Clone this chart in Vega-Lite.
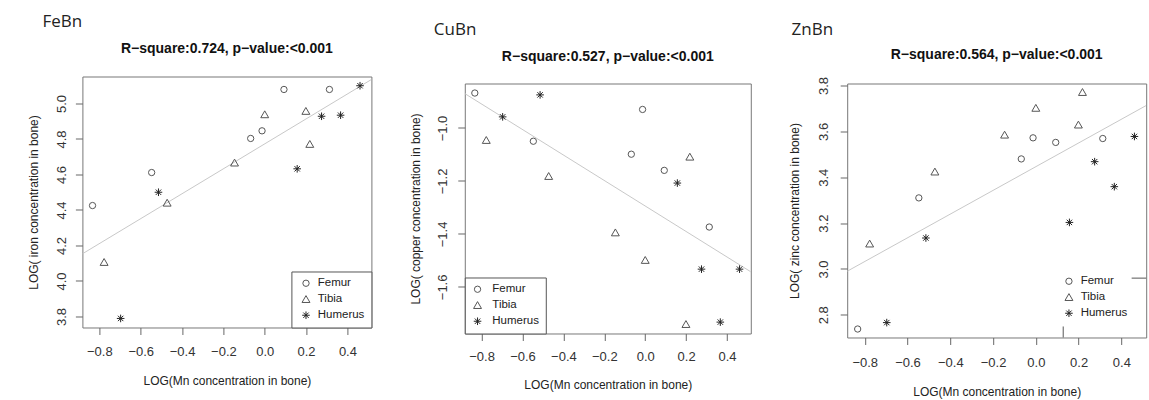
{
  "$schema": "https://vega.github.io/schema/vega-lite/v6.json",
  "padding": {"left": 26.4, "top": 12.5, "right": 5, "bottom": 5},
  "background": "white",
  "datasets": {
    "fe": [
      {"mn": -0.833, "val": 4.425, "bone": "Femur"},
      {"mn": -0.547, "val": 4.611, "bone": "Femur"},
      {"mn": -0.068, "val": 4.803, "bone": "Femur"},
      {"mn": -0.013, "val": 4.846, "bone": "Femur"},
      {"mn": 0.093, "val": 5.079, "bone": "Femur"},
      {"mn": 0.313, "val": 5.079, "bone": "Femur"},
      {"mn": -0.777, "val": 4.106, "bone": "Tibia"},
      {"mn": -0.472, "val": 4.44, "bone": "Tibia"},
      {"mn": -0.146, "val": 4.666, "bone": "Tibia"},
      {"mn": 0.0, "val": 4.938, "bone": "Tibia"},
      {"mn": 0.199, "val": 4.957, "bone": "Tibia"},
      {"mn": 0.218, "val": 4.771, "bone": "Tibia"},
      {"mn": -0.697, "val": 3.789, "bone": "Humerus"},
      {"mn": -0.514, "val": 4.5, "bone": "Humerus"},
      {"mn": 0.157, "val": 4.632, "bone": "Humerus"},
      {"mn": 0.275, "val": 4.928, "bone": "Humerus"},
      {"mn": 0.367, "val": 4.934, "bone": "Humerus"},
      {"mn": 0.461, "val": 5.1, "bone": "Humerus"}
    ],
    "feFit": [
      {"mn": -0.882, "val": 4.153},
      {"mn": 0.516, "val": 5.135}
    ],
    "cu": [
      {"mn": -0.833, "val": -0.868, "bone": "Femur"},
      {"mn": -0.547, "val": -1.05, "bone": "Femur"},
      {"mn": -0.068, "val": -1.099, "bone": "Femur"},
      {"mn": -0.013, "val": -0.93, "bone": "Femur"},
      {"mn": 0.093, "val": -1.16, "bone": "Femur"},
      {"mn": 0.313, "val": -1.374, "bone": "Femur"},
      {"mn": -0.777, "val": -1.046, "bone": "Tibia"},
      {"mn": -0.472, "val": -1.182, "bone": "Tibia"},
      {"mn": -0.146, "val": -1.395, "bone": "Tibia"},
      {"mn": 0.0, "val": -1.499, "bone": "Tibia"},
      {"mn": 0.199, "val": -1.741, "bone": "Tibia"},
      {"mn": 0.218, "val": -1.109, "bone": "Tibia"},
      {"mn": -0.697, "val": -0.958, "bone": "Humerus"},
      {"mn": -0.514, "val": -0.875, "bone": "Humerus"},
      {"mn": 0.157, "val": -1.208, "bone": "Humerus"},
      {"mn": 0.275, "val": -1.533, "bone": "Humerus"},
      {"mn": 0.367, "val": -1.733, "bone": "Humerus"},
      {"mn": 0.461, "val": -1.533, "bone": "Humerus"}
    ],
    "cuFit": [
      {"mn": -0.882, "val": -0.87},
      {"mn": 0.516, "val": -1.543}
    ],
    "zn": [
      {"mn": -0.833, "val": 2.738, "bone": "Femur"},
      {"mn": -0.547, "val": 3.31, "bone": "Femur"},
      {"mn": -0.068, "val": 3.48, "bone": "Femur"},
      {"mn": -0.013, "val": 3.572, "bone": "Femur"},
      {"mn": 0.093, "val": 3.552, "bone": "Femur"},
      {"mn": 0.313, "val": 3.569, "bone": "Femur"},
      {"mn": -0.777, "val": 3.11, "bone": "Tibia"},
      {"mn": -0.472, "val": 3.424, "bone": "Tibia"},
      {"mn": -0.146, "val": 3.585, "bone": "Tibia"},
      {"mn": 0.0, "val": 3.702, "bone": "Tibia"},
      {"mn": 0.199, "val": 3.629, "bone": "Tibia"},
      {"mn": 0.218, "val": 3.771, "bone": "Tibia"},
      {"mn": -0.697, "val": 2.766, "bone": "Humerus"},
      {"mn": -0.514, "val": 3.135, "bone": "Humerus"},
      {"mn": 0.157, "val": 3.203, "bone": "Humerus"},
      {"mn": 0.275, "val": 3.468, "bone": "Humerus"},
      {"mn": 0.367, "val": 3.359, "bone": "Humerus"},
      {"mn": 0.461, "val": 3.578, "bone": "Humerus"}
    ],
    "znFit": [
      {"mn": -0.882, "val": 2.99},
      {"mn": 0.516, "val": 3.713}
    ],
    "znBox": [
      {"mn": 0.128, "mn2": 0.128, "val": 2.701, "val2": 2.749},
      {"mn": 0.448, "mn2": 0.516, "val": 2.96, "val2": 2.96}
    ]
  },
  "spacing": 35.4,
  "resolve": {"scale": {"shape": "independent", "color": "independent"}, "legend": {"shape": "independent", "color": "independent"}},
  "hconcat": [
    {
      "title": {"text": "FeBn", "anchor": "start", "frame": "group", "dx": -40, "offset": 6},
      "spacing": 0,
      "resolve": {"scale": {"shape": "independent", "color": "independent"}, "legend": {"shape": "independent", "color": "independent"}},
      "vconcat": [
        {"width": 1, "height": 4.5, "data": {"values": []}, "mark": "point", "view": {"stroke": null}},
        {
          "width": 289,
          "height": 251,
          "title": {"text": "R−square:0.724, p−value:<0.001", "offset": 20.5, "font": "Liberation Sans", "fontSize": 14, "fontWeight": "bold", "color": "#111"},
          "encoding": {
            "x": {"field": "mn", "type": "quantitative",
              "scale": {"domain": [-0.882, 0.516], "nice": false, "zero": false},
              "axis": {"values": [-0.8, -0.6, -0.4, -0.2, 0, 0.2, 0.4], "format": ".1f", "title": "LOG(Mn concentration in bone)", "labelPadding": 11.1, "titlePadding": 17.3}},
            "y": {"field": "val", "type": "quantitative",
              "scale": {"domain": [3.738, 5.152], "nice": false, "zero": false},
              "axis": {"values": [3.8, 4.0, 4.2, 4.4, 4.6, 4.8, 5.0], "format": ".1f", "title": "LOG( iron  concentration in bone)", "labelPadding": 6.6, "titlePadding": 15}}
          },
          "layer": [
            {"data": {"name": "feFit"}, "mark": {"type": "line", "clip": true, "color": "#c8c8c8", "strokeWidth": 1}, "encoding": {}},
            {"data": {"name": "fe"},
              "mark": {"type": "point", "filled": false, "size": 40, "strokeWidth": 1, "opacity": 1},
              "encoding": {
                "shape": {"field": "bone", "type": "nominal",
                  "scale": {"domain": ["Femur", "Tibia", "Humerus"], "range": ["circle", "M0,-1.15L1.25,1.02L-1.25,1.02Z", "M-1.2,0L1.2,0M0,-1.2L0,1.2M-0.85,-0.85L0.85,0.85M-0.85,0.85L0.85,-0.85"]},
                  "legend": {"title": null, "orient": "bottom-right", "offset": 0, "padding": 6, "symbolOffset": 2.85, "strokeColor": "#555", "fillColor": "white", "labelOffset": 6}},
                "color": {"field": "bone", "type": "nominal",
                  "scale": {"domain": ["Femur", "Tibia", "Humerus"], "range": ["#555555", "#555555", "#222222"]},
                  "legend": {"title": null, "orient": "bottom-right", "offset": 0, "padding": 6, "symbolOffset": 2.85, "strokeColor": "#555", "fillColor": "white", "labelOffset": 6}}
              }}
          ]
        }
      ]
    },
    {
      "spacing": 35.4,
      "resolve": {"scale": {"shape": "independent", "color": "independent"}, "legend": {"shape": "independent", "color": "independent"}},
      "hconcat": [
        {
          "title": {"text": "CuBn", "anchor": "start", "frame": "group", "dx": -31, "offset": -2},
          "spacing": 0,
          "resolve": {"scale": {"shape": "independent", "color": "independent"}, "legend": {"shape": "independent", "color": "independent"}},
          "vconcat": [
            {"width": 1, "height": 11.5, "data": {"values": []}, "mark": "point", "view": {"stroke": null}},
            {
              "width": 286,
              "height": 250,
              "title": {"text": "R−square:0.527, p−value:<0.001", "offset": 20, "font": "Liberation Sans", "fontSize": 14, "fontWeight": "bold", "color": "#111"},
              "encoding": {
                "x": {"field": "mn", "type": "quantitative",
                  "scale": {"domain": [-0.882, 0.516], "nice": false, "zero": false},
                  "axis": {"values": [-0.8, -0.6, -0.4, -0.2, 0, 0.2, 0.4], "format": ".1f", "title": "LOG(Mn concentration in bone)", "labelPadding": 10.1, "titlePadding": 16.3}},
                "y": {"field": "val", "type": "quantitative",
                  "scale": {"domain": [-1.776, -0.832], "nice": false, "zero": false},
                  "axis": {"values": [-1.6, -1.4, -1.2, -1.0], "format": ".1f", "title": "LOG( copper  concentration in bone)", "labelPadding": 8.3, "titlePadding": 14.3}}
              },
              "layer": [
                {"data": {"name": "cuFit"}, "mark": {"type": "line", "clip": true, "color": "#c8c8c8", "strokeWidth": 1}, "encoding": {}},
                {"data": {"name": "cu"},
                  "mark": {"type": "point", "filled": false, "size": 40, "strokeWidth": 1, "opacity": 1},
                  "encoding": {
                    "shape": {"field": "bone", "type": "nominal",
                      "scale": {"domain": ["Femur", "Tibia", "Humerus"], "range": ["circle", "M0,-1.15L1.25,1.02L-1.25,1.02Z", "M-1.2,0L1.2,0M0,-1.2L0,1.2M-0.85,-0.85L0.85,0.85M-0.85,0.85L0.85,-0.85"]},
                      "legend": {"title": null, "orient": "bottom-left", "offset": 0, "padding": 6, "symbolOffset": 1, "strokeColor": "#555", "fillColor": "white", "labelOffset": 9}},
                    "color": {"field": "bone", "type": "nominal",
                      "scale": {"domain": ["Femur", "Tibia", "Humerus"], "range": ["#555555", "#555555", "#222222"]},
                      "legend": {"title": null, "orient": "bottom-left", "offset": 0, "padding": 6, "symbolOffset": 1, "strokeColor": "#555", "fillColor": "white", "labelOffset": 9}}
                  }}
              ]
            }
          ]
        },
        {
          "title": {"text": "ZnBn", "anchor": "start", "frame": "group", "dx": -55.6, "offset": -2},
          "spacing": 0,
          "resolve": {"scale": {"shape": "independent", "color": "independent"}, "legend": {"shape": "independent", "color": "independent"}},
          "vconcat": [
            {"width": 1, "height": 10.6, "data": {"values": []}, "mark": "point", "view": {"stroke": null}},
            {
              "width": 299,
              "height": 254,
              "title": {"text": "R−square:0.564, p−value:<0.001", "offset": 14.4, "font": "Liberation Sans", "fontSize": 14, "fontWeight": "bold", "color": "#111"},
              "encoding": {
                "x": {"field": "mn", "type": "quantitative",
                  "scale": {"domain": [-0.882, 0.516], "nice": false, "zero": false},
                  "axis": {"values": [-0.8, -0.6, -0.4, -0.2, 0, 0.2, 0.4], "format": ".1f", "title": "LOG(Mn concentration in bone)", "labelPadding": 12.4, "titlePadding": 16.3}},
                "y": {"field": "val", "type": "quantitative",
                  "scale": {"domain": [2.701, 3.809], "nice": false, "zero": false},
                  "axis": {"values": [2.8, 3.0, 3.2, 3.4, 3.6, 3.8], "format": ".1f", "title": "LOG( zinc  concentration in bone)", "labelPadding": 9.6, "titlePadding": 16}}
              },
              "layer": [
                {"data": {"name": "znFit"}, "mark": {"type": "line", "clip": true, "color": "#c8c8c8", "strokeWidth": 1}, "encoding": {}},
                {"data": {"name": "znBox"}, "mark": {"type": "rule", "color": "#555", "strokeWidth": 1},
                  "encoding": {"x2": {"field": "mn2"}, "y2": {"field": "val2"}}},
                {"data": {"name": "zn"},
                  "mark": {"type": "point", "filled": false, "size": 40, "strokeWidth": 1, "opacity": 1},
                  "encoding": {
                    "shape": {"field": "bone", "type": "nominal",
                      "scale": {"domain": ["Femur", "Tibia", "Humerus"], "range": ["circle", "M0,-1.15L1.25,1.02L-1.25,1.02Z", "M-1.2,0L1.2,0M0,-1.2L0,1.2M-0.85,-0.85L0.85,0.85M-0.85,0.85L0.85,-0.85"]},
                      "legend": {"title": null, "orient": "bottom-right", "offset": 12, "padding": 6, "labelOffset": 6}},
                    "color": {"field": "bone", "type": "nominal",
                      "scale": {"domain": ["Femur", "Tibia", "Humerus"], "range": ["#555555", "#555555", "#222222"]},
                      "legend": {"title": null, "orient": "bottom-right", "offset": 12, "padding": 6, "labelOffset": 6}}
                  }}
              ]
            }
          ]
        }
      ]
    }
  ],
  "config": {
    "view": {"stroke": "#777", "strokeWidth": 1},
    "title": {"font": "Open Sans", "fontSize": 17, "fontWeight": "normal", "color": "#222"},
    "axis": {
      "labelFont": "Liberation Sans", "labelFontSize": 13, "labelColor": "#333",
      "titleFont": "Liberation Sans", "titleFontSize": 12, "titleFontWeight": "normal", "titleColor": "#222",
      "domain": false, "grid": false, "tickColor": "#666", "tickSize": 7,
      "labelFlush": false, "labelOverlap": false
    },
    "axisY": {"labelAngle": -90, "labelAlign": "center", "labelBaseline": "bottom"},
    "legend": {
      "labelFont": "Liberation Sans", "labelFontSize": 11.5, "labelColor": "#222",
      "symbolSize": 40, "symbolStrokeWidth": 1, "rowPadding": 3
    },
    "concat": {"spacing": 0}
  }
}
